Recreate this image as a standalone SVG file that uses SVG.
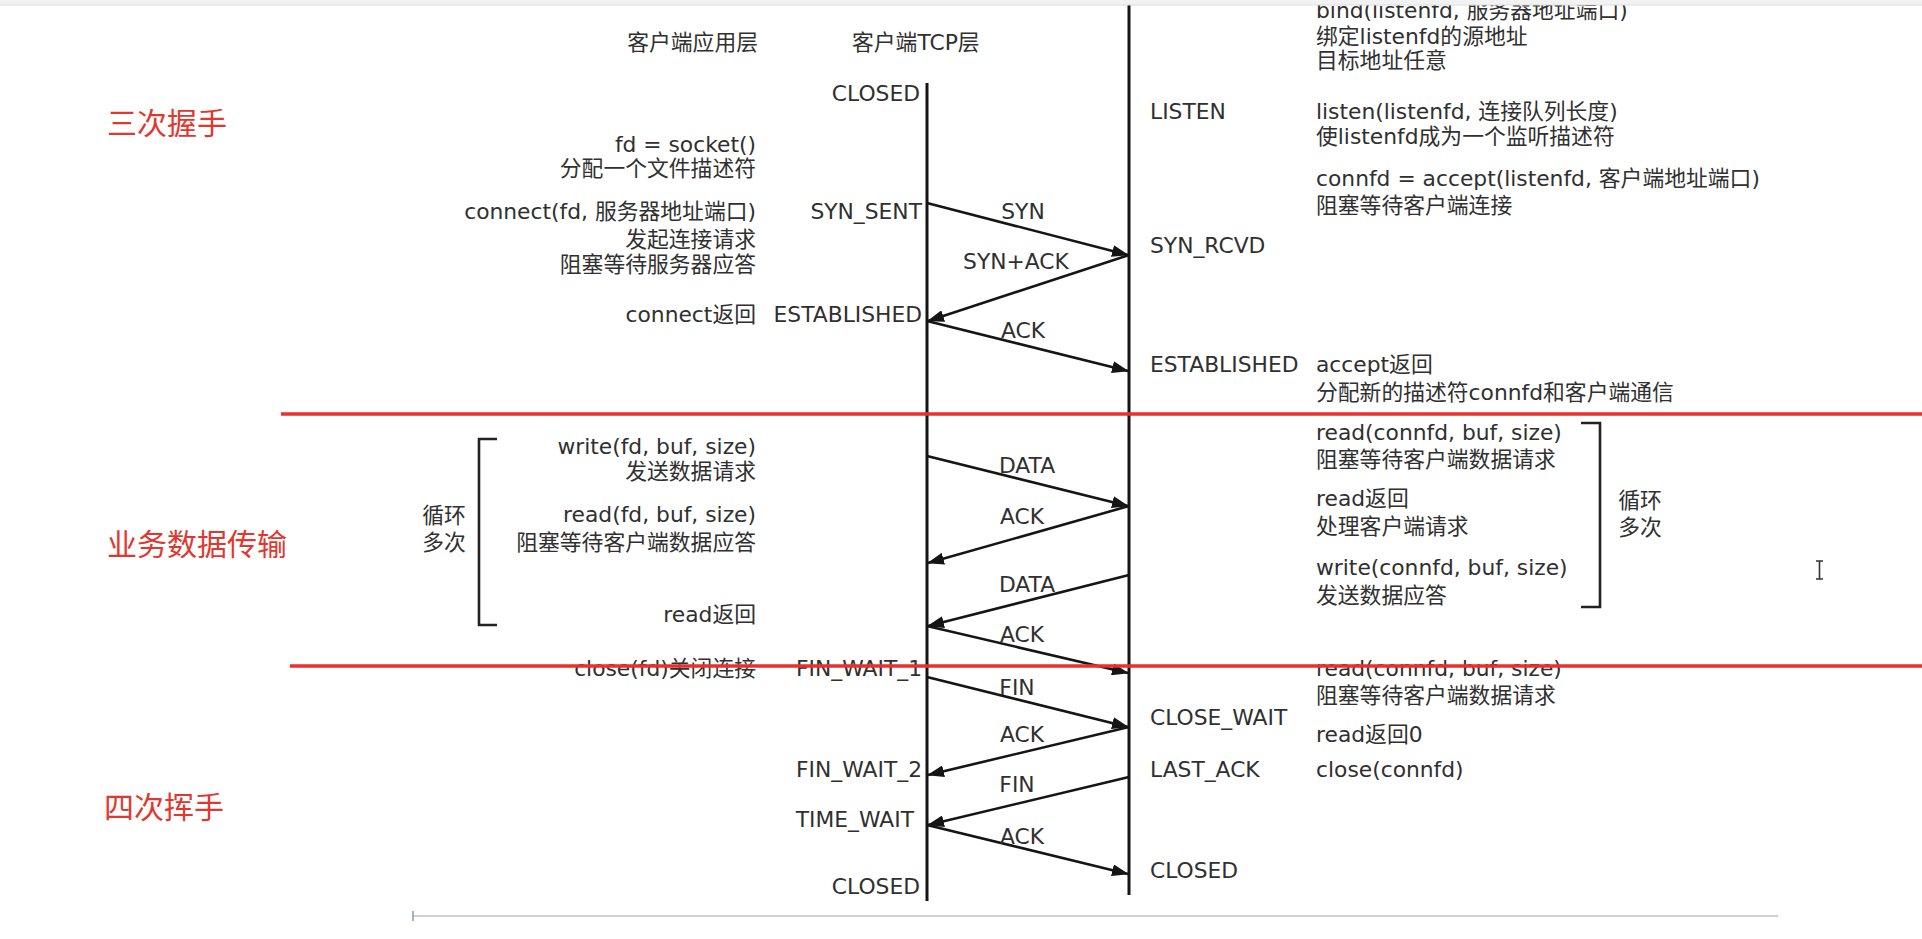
<svg xmlns="http://www.w3.org/2000/svg" width="1922" height="939" viewBox="0 0 1922 939">
<style>
.t{font-family:"DejaVu Sans","Noto Sans CJK SC",sans-serif;font-size:21.8px;fill:#303030}
.e{text-anchor:end}
.m{text-anchor:middle}
.sec{font-family:"Noto Sans CJK SC",sans-serif;font-size:30px;fill:#e0382e}
.life{stroke:#151515;stroke-width:3;fill:none}
.msg{stroke:#151515;stroke-width:2.6;fill:none;marker-end:url(#ah)}
.br{stroke:#222;stroke-width:2.6;fill:none}
.div{stroke:#e8302c;stroke-width:3.5}
</style>
<defs>
<marker id="ah" viewBox="0 0 17 12" refX="16" refY="6" markerWidth="17" markerHeight="12" markerUnits="userSpaceOnUse" orient="auto">
<path d="M0,0 L17,6 L0,12 Z" fill="#151515"/>
</marker>
</defs>
<rect x="0" y="0" width="1922" height="939" fill="#ffffff"/>

<g id="headers">
<text class="t" x="758" y="50" text-anchor="end">客户端应用层</text>
<text class="t" x="852" y="50">客户端TCP层</text>
</g>

<g id="lifelines">
<line class="life" x1="927" y1="83" x2="927" y2="901"/>
<line class="life" x1="1129" y1="0" x2="1129" y2="895"/>
</g>

<g id="client-app">
<text class="t e" x="756" y="152">fd = socket()</text>
<text class="t e" x="756" y="176">分配一个文件描述符</text>
<text class="t e" x="756" y="219">connect(fd, 服务器地址端口)</text>
<text class="t e" x="756" y="247">发起连接请求</text>
<text class="t e" x="756" y="272">阻塞等待服务器应答</text>
<text class="t e" x="756" y="322">connect返回</text>
<text class="t e" x="756" y="454">write(fd, buf, size)</text>
<text class="t e" x="756" y="479">发送数据请求</text>
<text class="t e" x="756" y="522">read(fd, buf, size)</text>
<text class="t e" x="756" y="550">阻塞等待客户端数据应答</text>
<text class="t e" x="756" y="622">read返回</text>
<text class="t e" x="756" y="676" fill="#555">close(fd)关闭连接</text>
</g>

<g id="client-loop">
<path class="br" d="M497,439 H479 V625 H497"/>
<text class="t m" x="444" y="523">循环</text>
<text class="t m" x="444" y="550">多次</text>
</g>

<g id="client-states">
<text class="t e" x="920" y="101">CLOSED</text>
<text class="t e" x="922" y="219">SYN_SENT</text>
<text class="t e" x="922" y="322">ESTABLISHED</text>
<text class="t e" x="922" y="676">FIN_WAIT_1</text>
<text class="t e" x="922" y="777">FIN_WAIT_2</text>
<text class="t e" x="914" y="827">TIME_WAIT</text>
<text class="t e" x="920" y="894">CLOSED</text>
</g>

<g id="server-states">
<text class="t" x="1150" y="119">LISTEN</text>
<text class="t" x="1150" y="253">SYN_RCVD</text>
<text class="t" x="1150" y="372">ESTABLISHED</text>
<text class="t" x="1150" y="725">CLOSE_WAIT</text>
<text class="t" x="1150" y="777">LAST_ACK</text>
<text class="t" x="1150" y="878">CLOSED</text>
</g>

<g id="server-app">
<text class="t" x="1316" y="18">bind(listenfd, 服务器地址端口)</text>
<text class="t" x="1316" y="44">绑定listenfd的源地址</text>
<text class="t" x="1316" y="68">目标地址任意</text>
<text class="t" x="1316" y="119">listen(listenfd, 连接队列长度)</text>
<text class="t" x="1316" y="144">使listenfd成为一个监听描述符</text>
<text class="t" x="1316" y="186">connfd = accept(listenfd, 客户端地址端口)</text>
<text class="t" x="1316" y="213">阻塞等待客户端连接</text>
<text class="t" x="1316" y="372">accept返回</text>
<text class="t" x="1316" y="400">分配新的描述符connfd和客户端通信</text>
<text class="t" x="1316" y="440">read(connfd, buf, size)</text>
<text class="t" x="1316" y="467">阻塞等待客户端数据请求</text>
<text class="t" x="1316" y="506">read返回</text>
<text class="t" x="1316" y="534">处理客户端请求</text>
<text class="t" x="1316" y="575">write(connfd, buf, size)</text>
<text class="t" x="1316" y="603">发送数据应答</text>
<text class="t" x="1316" y="676">read(connfd, buf, size)</text>
<text class="t" x="1316" y="703">阻塞等待客户端数据请求</text>
<text class="t" x="1316" y="742">read返回0</text>
<text class="t" x="1316" y="777">close(connfd)</text>
</g>

<g id="server-loop">
<path class="br" d="M1581,423 H1600 V607 H1581"/>
<text class="t m" x="1640" y="508">循环</text>
<text class="t m" x="1640" y="535">多次</text>
</g>

<g id="connectors">
<line class="msg" x1="927" y1="203" x2="1128" y2="255"/>
<line class="msg" x1="1129" y1="255" x2="928" y2="321"/>
<line class="msg" x1="927" y1="321" x2="1128" y2="371"/>
<line class="msg" x1="927" y1="456" x2="1128" y2="506"/>
<line class="msg" x1="1129" y1="506" x2="928" y2="563"/>
<line class="msg" x1="1129" y1="575" x2="928" y2="626"/>
<line class="msg" x1="927" y1="626" x2="1128" y2="673"/>
<line class="msg" x1="927" y1="677" x2="1128" y2="727"/>
<line class="msg" x1="1129" y1="727" x2="928" y2="775"/>
<line class="msg" x1="1129" y1="777" x2="928" y2="825"/>
<line class="msg" x1="927" y1="825" x2="1128" y2="874"/>
</g>

<g id="connector-labels">
<text class="t m" x="1023" y="219">SYN</text>
<text class="t m" x="1016" y="269">SYN+ACK</text>
<text class="t m" x="1023" y="338">ACK</text>
<text class="t m" x="1027" y="473">DATA</text>
<text class="t m" x="1022" y="524">ACK</text>
<text class="t m" x="1027" y="592">DATA</text>
<text class="t m" x="1022" y="642">ACK</text>
<text class="t m" x="1017" y="695">FIN</text>
<text class="t m" x="1022" y="742">ACK</text>
<text class="t m" x="1017" y="792">FIN</text>
<text class="t m" x="1022" y="844">ACK</text>
</g>

<g id="sections">
<text class="sec" x="107" y="134">三次握手</text>
<text class="sec" x="107" y="555">业务数据传输</text>
<text class="sec" x="104" y="818">四次挥手</text>
<line class="div" x1="281" y1="414" x2="1922" y2="414"/>
<line class="div" x1="290" y1="666" x2="1922" y2="666"/>
</g>

<g id="frame">
<rect x="0" y="0" width="1922" height="5" fill="#f2f2f2"/>
<line x1="0" y1="5" x2="1922" y2="5" stroke="#dedede" stroke-width="1"/>
<line x1="413" y1="916" x2="1778" y2="916" stroke="#c9d3de" stroke-width="2"/>
<line x1="413" y1="911" x2="413" y2="921" stroke="#8a99aa" stroke-width="1.5"/>
<path d="M1816,561 H1823 M1819.5,561 V579 M1816,579 H1823" stroke="#333" stroke-width="1.6" fill="none"/>
</g>
</svg>
